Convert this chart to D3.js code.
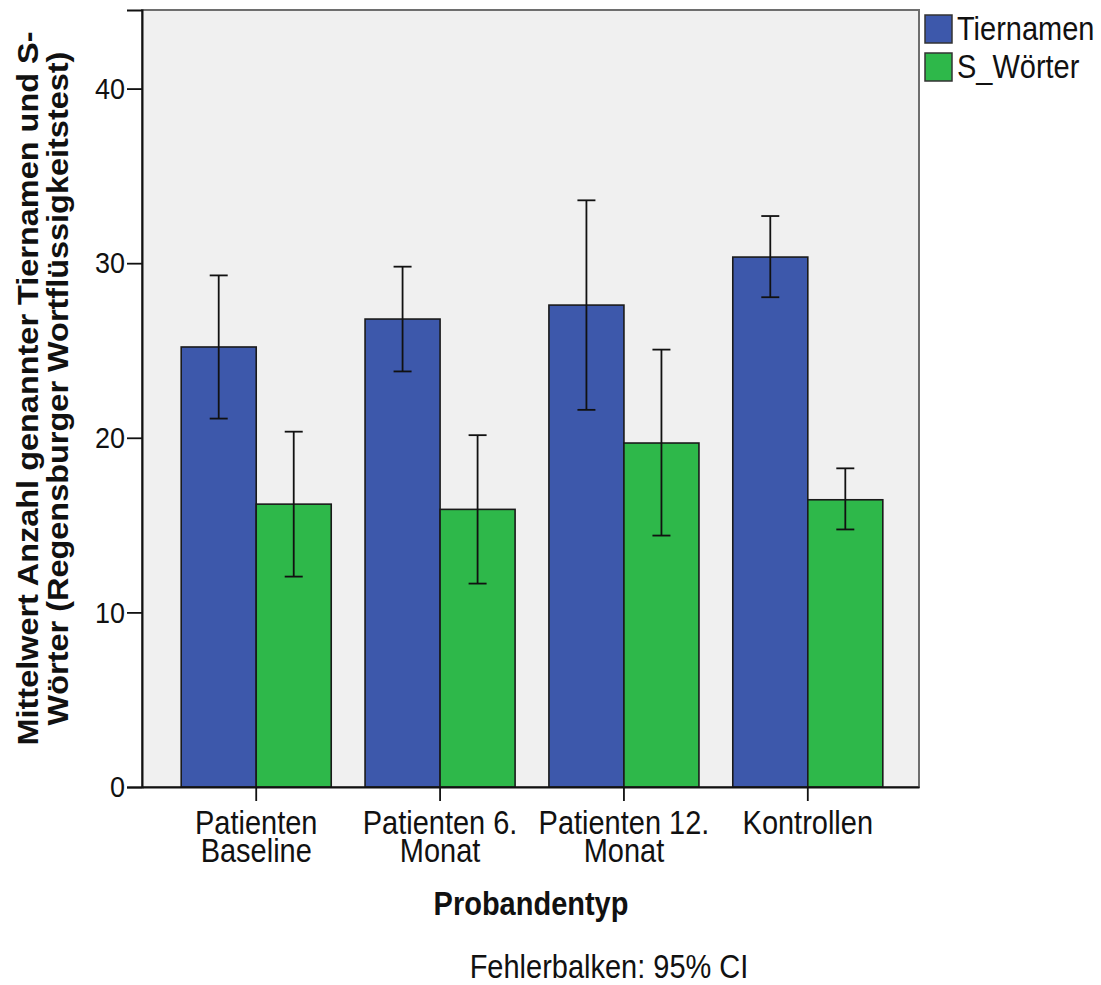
<!DOCTYPE html>
<html>
<head>
<meta charset="utf-8">
<script src="https://cdn.jsdelivr.net/npm/d3@7"></script>
<style>
  html, body { margin: 0; padding: 0; background: #fff; }
  svg text { font-family: "Liberation Sans", Arial, sans-serif; fill: #111; }
</style>
</head>
<body>
<svg id="chart" width="1101" height="985"></svg>
<script>
// Probandentyp groups and the two fluency measures
const categories = [["Patienten", "Baseline"], ["Patienten 6.", "Monat"], ["Patienten 12.", "Monat"], ["Kontrollen"]];
const categoryKeys = ["Patienten Baseline", "Patienten 6. Monat", "Patienten 12. Monat", "Kontrollen"];
const seriesNames = ["Tiernamen", "S_Wörter"];
const seriesColors = ["#3d58ab", "#2eb84a"];

// Means with 95% CI bounds
const tiernamenMean = [25.2, 26.8, 27.6, 30.35];
const tiernamenLow  = [21.1, 23.8, 21.6, 28.05];
const tiernamenHigh = [29.3, 29.8, 33.6, 32.7];
const sWoerterMean  = [16.2, 15.9, 19.7, 16.45];
const sWoerterLow   = [12.05, 11.65, 14.4, 14.75];
const sWoerterHigh  = [20.35, 20.15, 25.05, 18.25];

const yTicks = [0, 10, 20, 30, 40];

const rows = [];
categoryKeys.forEach((c, i) => {
  rows.push({cat: c, series: seriesNames[0], mean: tiernamenMean[i], low: tiernamenLow[i], high: tiernamenHigh[i]});
  rows.push({cat: c, series: seriesNames[1], mean: sWoerterMean[i], low: sWoerterLow[i], high: sWoerterHigh[i]});
});

const svg = d3.select("#chart");
const plot = {left: 142, right: 919, top: 10, bottom: 787};
const stretch = 1.12; // glyphs are drawn slightly taller than wide

const y = d3.scaleLinear().domain([0, 44.5]).range([plot.bottom, plot.top]);
const x0 = d3.scaleBand().domain(categoryKeys).range([plot.left, plot.right])
  .paddingInner(0.184).paddingOuter(0.205).align(0.52);
const x1 = d3.scaleBand().domain(seriesNames).range([0, x0.bandwidth()]);
const color = d3.scaleOrdinal().domain(seriesNames).range(seriesColors);

// plot background and frame
svg.append("rect")
  .attr("x", plot.left).attr("y", plot.top)
  .attr("width", plot.right - plot.left).attr("height", plot.bottom - plot.top)
  .attr("fill", "#f0f0f0").attr("stroke", "#6e6e6e").attr("stroke-width", 2);

// bars
svg.append("g").selectAll("rect").data(rows).join("rect")
  .attr("x", d => x0(d.cat) + x1(d.series))
  .attr("y", d => y(d.mean))
  .attr("width", x1.bandwidth())
  .attr("height", d => y(0) - y(d.mean))
  .attr("fill", d => color(d.series))
  .attr("stroke", "#1a1a1a").attr("stroke-width", 1.6);

// error bars
const eb = svg.append("g").attr("stroke", "#111").attr("stroke-width", 1.8);
const cap = 9;
rows.forEach(d => {
  const cx = x0(d.cat) + x1(d.series) + x1.bandwidth() / 2;
  eb.append("line").attr("x1", cx).attr("x2", cx).attr("y1", y(d.low)).attr("y2", y(d.high));
  eb.append("line").attr("x1", cx - cap).attr("x2", cx + cap).attr("y1", y(d.low)).attr("y2", y(d.low));
  eb.append("line").attr("x1", cx - cap).attr("x2", cx + cap).attr("y1", y(d.high)).attr("y2", y(d.high));
});

// y axis
const yAxis = svg.append("g").attr("transform", `translate(${plot.left},0)`)
  .call(d3.axisLeft(y).tickValues(yTicks).tickSize(15).tickPadding(2).tickFormat(d3.format("d")));
yAxis.select(".domain").attr("stroke", "#111").attr("stroke-width", 2);
yAxis.selectAll(".tick line").attr("stroke", "#111").attr("stroke-width", 1.8);
yAxis.selectAll(".tick text").attr("font-size", 27).attr("font-family", "Liberation Sans, Arial, sans-serif")
  .attr("fill", "#222").attr("transform", `scale(1,${stretch})`);

// x axis
const xAxis = svg.append("g").attr("transform", `translate(0,${plot.bottom})`)
  .call(d3.axisBottom(x0).tickSize(14).tickSizeOuter(0).tickFormat(""));
xAxis.select(".domain").attr("stroke", "#111").attr("stroke-width", 2);
xAxis.selectAll(".tick line").attr("stroke", "#111").attr("stroke-width", 1.8);
xAxis.selectAll(".tick").each(function(d, i) {
  categories[i].forEach((line, j) => {
    d3.select(this).append("text").attr("text-anchor", "middle")
      .attr("font-size", 29).attr("fill", "#111")
      .attr("transform", `translate(0,${47 + j * 28}) scale(1,${stretch})`)
      .text(line);
  });
});

// axis titles
svg.append("text").attr("text-anchor", "middle")
  .attr("transform", `translate(531,915) scale(1,${stretch})`)
  .attr("font-size", 29).attr("font-weight", "bold").text("Probandentyp");

const yTitle = svg.append("g")
  .attr("transform", `translate(38,${(plot.top + plot.bottom) / 2 - 10}) rotate(-90) scale(${stretch},1)`);
yTitle.append("text").attr("text-anchor", "middle").attr("font-size", 29).attr("font-weight", "bold")
  .attr("y", 0).text("Mittelwert Anzahl genannter Tiernamen und S-");
yTitle.append("text").attr("text-anchor", "middle").attr("font-size", 29).attr("font-weight", "bold")
  .attr("y", 30).text("Wörter (Regensburger Wortflüssigkeitstest)");

// footnote
svg.append("text").attr("text-anchor", "middle")
  .attr("transform", `translate(609,978) scale(1,${stretch})`)
  .attr("font-size", 29).text("Fehlerbalken: 95% CI");

// legend
const legend = svg.append("g").selectAll("g").data(seriesNames).join("g")
  .attr("transform", (d, i) => `translate(925,${15 + i * 38})`);
legend.append("rect").attr("width", 27).attr("height", 28)
  .attr("fill", d => color(d)).attr("stroke", "#333").attr("stroke-width", 1.5);
legend.append("text").attr("transform", `translate(32,25) scale(1,${stretch})`)
  .attr("font-size", 29).text(d => d);
</script>
</body>
</html>
